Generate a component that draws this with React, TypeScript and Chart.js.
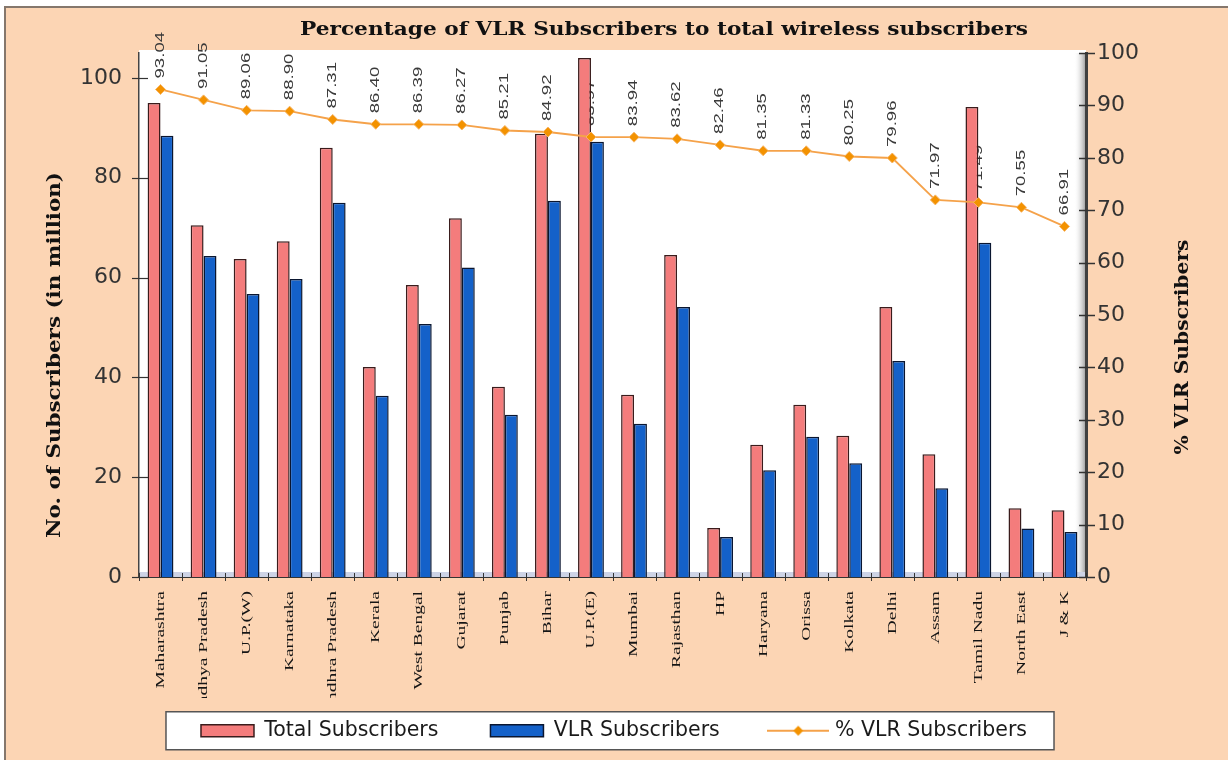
import React, { useEffect, useRef } from "react";
import { Chart, registerables } from "chart.js";

Chart.register(...registerables);

const categories = [
  "Maharashtra", "Madhya Pradesh", "U.P.(W)", "Karnataka", "Andhra Pradesh", "Kerala",
  "West Bengal", "Gujarat", "Punjab", "Bihar", "U.P.(E)", "Mumbai", "Rajasthan", "HP",
  "Haryana", "Orissa", "Kolkata", "Delhi", "Assam", "Tamil Nadu", "North East", "J & K",
];
const totalSubscribers = [
  95.0, 70.5, 63.7, 67.3, 86.0, 42.1, 58.5, 71.9, 38.1, 88.8, 104.0, 36.5, 64.5, 9.8,
  26.5, 34.5, 28.3, 54.1, 24.6, 94.2, 13.8, 13.4,
];
const vlrSubscribers = [
  88.4, 64.3, 56.7, 59.7, 75.0, 36.3, 50.7, 62.0, 32.5, 75.4, 87.2, 30.7, 54.1, 8.0,
  21.4, 28.1, 22.8, 43.3, 17.8, 67.0, 9.7, 9.0,
];
const vlrPercent = [
  93.04, 91.05, 89.06, 88.9, 87.31, 86.4, 86.39, 86.27, 85.21, 84.92, 83.97, 83.94,
  83.62, 82.46, 81.35, 81.33, 80.25, 79.96, 71.97, 71.49, 70.55, 66.91,
];

const titleText = "Percentage of VLR Subscribers to total wireless subscribers";
const leftTitle = "No. of Subscribers (in million)";
const rightTitle = "% VLR Subscribers";
const legendNames = ["Total Subscribers", "VLR Subscribers", "% VLR Subscribers"];

const PEACH = "#FCD5B4";
const PINK = "#F47C7C";
const PINK_BORDER = "#3a1c1c";
const BLUE = "#1461C9";
const BLUE_BORDER = "#0a1630";
const ORANGE_LINE = "#F5A24A";
const ORANGE_PT = "#F39200";

function makeLineIcon(): HTMLCanvasElement {
  const c = document.createElement("canvas");
  c.width = 62;
  c.height = 14;
  const g = c.getContext("2d")!;
  g.strokeStyle = ORANGE_LINE;
  g.lineWidth = 2;
  g.beginPath();
  g.moveTo(0, 7);
  g.lineTo(62, 7);
  g.stroke();
  g.fillStyle = ORANGE_PT;
  g.beginPath();
  g.moveTo(31, 2);
  g.lineTo(36, 7);
  g.lineTo(31, 12);
  g.lineTo(26, 7);
  g.closePath();
  g.fill();
  return c;
}

function drawFit(ctx: CanvasRenderingContext2D, text: string, x: number, y: number, rot: number, target: number) {
  ctx.save();
  ctx.translate(x, y);
  if (rot) ctx.rotate(rot);
  const w = ctx.measureText(text).width;
  ctx.scale(target / w, 1);
  ctx.textAlign = "center";
  ctx.textBaseline = "middle";
  ctx.fillText(text, 0, 0);
  ctx.restore();
}

const decorPlugin = {
  id: "decor",
  beforeDraw(chart: any) {
    const { ctx, chartArea: ca, width, height } = chart;
    ctx.save();
    ctx.fillStyle = "#ffffff";
    ctx.fillRect(0, 0, width, height);
    ctx.fillStyle = PEACH;
    ctx.fillRect(5, 7, width - 5, height - 7);
    ctx.strokeStyle = "#85776c";
    ctx.lineWidth = 2;
    ctx.beginPath();
    ctx.moveTo(5, height);
    ctx.lineTo(5, 7);
    ctx.lineTo(width, 7);
    ctx.stroke();

    // plot area
    ctx.fillStyle = "#ffffff";
    ctx.fillRect(ca.left, ca.top - 3, ca.right - ca.left, ca.bottom - ca.top + 3);
    const grad = ctx.createLinearGradient(ca.right - 12, 0, ca.right, 0);
    grad.addColorStop(0, "rgba(255,255,255,0)");
    grad.addColorStop(1, "rgba(80,80,80,0.6)");
    ctx.fillStyle = grad;
    ctx.fillRect(ca.right - 12, ca.top, 12, ca.bottom - ca.top);
    ctx.fillStyle = "#CDD3E6";
    ctx.fillRect(ca.left, ca.bottom - 5, ca.right - ca.left, 5);

    // legend frame
    const lg = chart.legend;
    if (lg && lg.legendHitBoxes && lg.legendHitBoxes.length) {
      const hb = lg.legendHitBoxes;
      let l = Infinity, r = -Infinity;
      hb.forEach((h: any) => {
        l = Math.min(l, h.left);
        r = Math.max(r, h.left + h.width);
      });
      const cy = hb[0].top + hb[0].height / 2;
      ctx.fillStyle = "#ffffff";
      ctx.fillRect(l - 35, cy - 19, r - l + 62, 38);
      ctx.strokeStyle = "#555555";
      ctx.lineWidth = 1.5;
      ctx.strokeRect(l - 35, cy - 19, r - l + 62, 38);
    }

    // titles
    ctx.fillStyle = "#111111";
    ctx.font = 'bold 18px "DejaVu Serif", serif';
    drawFit(ctx, titleText, 664, 30, 0, 728);
    ctx.font = 'bold 19px "DejaVu Serif", serif';
    drawFit(ctx, leftTitle, 55, 355, -Math.PI / 2, 366);
    drawFit(ctx, rightTitle, 1183, 347, -Math.PI / 2, 215);

    // x labels
    const xs = chart.scales.x;
    ctx.save();
    ctx.beginPath();
    ctx.rect(0, ca.bottom + 1, width, 698 - ca.bottom - 1);
    ctx.clip();
    ctx.fillStyle = "#151515";
    ctx.font = '13px "Liberation Serif", "Times New Roman", serif';
    categories.forEach((c, i) => {
      const x = xs.getPixelForValue(i);
      ctx.save();
      ctx.translate(x, ca.bottom + 14);
      ctx.rotate(-Math.PI / 2);
      ctx.scale(1.5, 1);
      ctx.textAlign = "right";
      ctx.textBaseline = "middle";
      ctx.fillText(c, 0, 0);
      ctx.restore();
    });
    ctx.restore();
    ctx.restore();
  },
  beforeDatasetsDraw(chart: any) {
    const { ctx } = chart;
    const meta = chart.getDatasetMeta(2);
    ctx.save();
    ctx.fillStyle = "#3a3a3a";
    ctx.font = '12px "Liberation Sans", Arial, sans-serif';
    meta.data.forEach((pt: any, i: number) => {
      ctx.save();
      ctx.translate(pt.x, pt.y - 11);
      ctx.rotate(-Math.PI / 2);
      ctx.scale(1.55, 1);
      ctx.textAlign = "left";
      ctx.textBaseline = "middle";
      ctx.fillText(vlrPercent[i].toFixed(2), 0, 0);
      ctx.restore();
    });
    ctx.restore();
  },
  afterDraw(chart: any) {
    const { ctx, chartArea: ca } = chart;
    ctx.save();
    ctx.strokeStyle = "#333333";
    ctx.lineWidth = 1.2;
    const y = chart.scales.y;
    y.ticks.forEach((t: any) => {
      const py = Math.round(y.getPixelForValue(t.value)) + 0.5;
      ctx.beginPath();
      ctx.moveTo(ca.left - 7, py);
      ctx.lineTo(ca.left + 9, py);
      ctx.stroke();
    });
    const y1 = chart.scales.y1;
    ctx.lineWidth = 1.5;
    y1.ticks.forEach((t: any) => {
      const py = Math.round(y1.getPixelForValue(t.value)) + 0.5;
      ctx.beginPath();
      ctx.moveTo(ca.right - 7, py);
      ctx.lineTo(ca.right + 9, py);
      ctx.stroke();
    });
    ctx.lineWidth = 1;
    const n = categories.length;
    for (let i = 0; i <= n; i++) {
      const px = Math.round(ca.left + (i * (ca.right - ca.left)) / n) + 0.5;
      ctx.beginPath();
      ctx.moveTo(px, ca.bottom - 4);
      ctx.lineTo(px, ca.bottom + 4);
      ctx.stroke();
    }
    ctx.restore();
  },
};

export default function App() {
  const ref = useRef<HTMLCanvasElement | null>(null);
  useEffect(() => {
    if (!ref.current) return;
    const lineIcon = makeLineIcon();
    const chart = new Chart(ref.current, {
      type: "bar",
      data: {
        labels: categories,
        datasets: [
          {
            type: "bar",
            label: legendNames[0],
            data: totalSubscribers,
            backgroundColor: PINK,
            borderColor: PINK_BORDER,
            borderWidth: 1.5,
            yAxisID: "y",
            categoryPercentage: 0.6,
            barPercentage: 1.0,
            order: 2,
          },
          {
            type: "bar",
            label: legendNames[1],
            data: vlrSubscribers,
            backgroundColor: BLUE,
            borderColor: BLUE_BORDER,
            borderWidth: 1.5,
            yAxisID: "y",
            categoryPercentage: 0.6,
            barPercentage: 1.0,
            order: 2,
          },
          {
            type: "line",
            label: legendNames[2],
            data: vlrPercent,
            borderColor: ORANGE_LINE,
            borderWidth: 1.8,
            pointStyle: "rectRot",
            pointRadius: 5,
            pointBackgroundColor: ORANGE_PT,
            pointBorderColor: "#F7B565",
            pointBorderWidth: 1,
            tension: 0,
            yAxisID: "y1",
            order: 0,
          } as any,
        ],
      },
      options: {
        animation: false,
        responsive: true,
        maintainAspectRatio: false,
        layout: { padding: { top: 53, bottom: 9, left: 0, right: 0 } },
        plugins: {
          title: { display: false },
          tooltip: { enabled: false },
          legend: {
            display: true,
            position: "bottom",
            labels: {
              usePointStyle: true,
              pointStyleWidth: 53,
              boxHeight: 12,
              padding: 52,
              color: "#1a1a1a",
              font: { family: '"DejaVu Sans", sans-serif', size: 20.5 },
              generateLabels: () => [
                {
                  text: legendNames[0],
                  fillStyle: PINK,
                  strokeStyle: PINK_BORDER,
                  lineWidth: 1.5,
                  pointStyle: "rect",
                  hidden: false,
                  datasetIndex: 0,
                  fontColor: "#1a1a1a",
                },
                {
                  text: legendNames[1],
                  fillStyle: BLUE,
                  strokeStyle: BLUE_BORDER,
                  lineWidth: 1.5,
                  pointStyle: "rect",
                  hidden: false,
                  datasetIndex: 1,
                  fontColor: "#1a1a1a",
                },
                {
                  text: legendNames[2],
                  fillStyle: ORANGE_PT,
                  strokeStyle: ORANGE_LINE,
                  lineWidth: 0,
                  pointStyle: lineIcon as any,
                  hidden: false,
                  datasetIndex: 2,
                  fontColor: "#1a1a1a",
                },
              ],
            },
          },
        },
        scales: {
          x: {
            offset: true,
            grid: { display: false, drawTicks: false },
            border: { display: true, color: "#333333", width: 1 },
            ticks: { display: false },
            afterFit: (s: any) => {
              s.height = 91.5;
            },
          },
          y: {
            position: "left",
            min: 0,
            max: 105,
            grid: { display: false, drawTicks: false },
            border: { display: true, color: "#444444", width: 1.5 },
            ticks: {
              stepSize: 20,
              includeBounds: false,
              padding: 17,
              color: "#333333",
              font: { family: '"DejaVu Sans", sans-serif', size: 22 },
            },
            afterFit: (s: any) => {
              s.width = 139;
            },
          },
          y1: {
            position: "right",
            min: 0,
            max: 100,
            grid: { display: false, drawTicks: false },
            border: { display: true, color: "#404040", width: 3 },
            ticks: {
              stepSize: 10,
              padding: 11,
              color: "#333333",
              font: { family: '"DejaVu Sans", sans-serif', size: 22 },
            },
            afterFit: (s: any) => {
              s.width = 142;
            },
          },
        },
      },
      plugins: [decorPlugin],
    });
    return () => chart.destroy();
  }, []);

  return (
    <div style={{ position: "fixed", left: 0, top: 0, width: 1228, height: 760 }}>
      <canvas ref={ref} />
    </div>
  );
}
